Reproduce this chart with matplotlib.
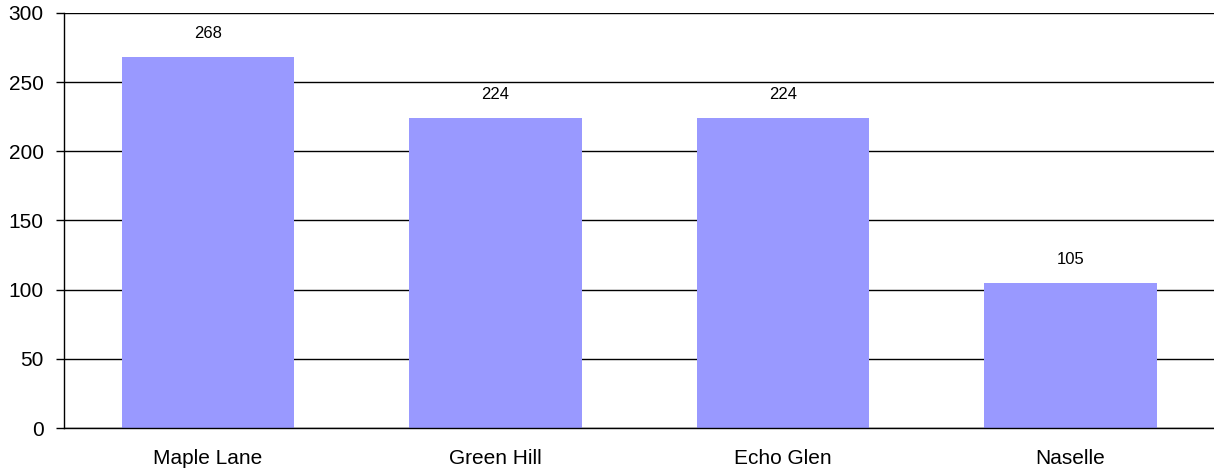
import numpy as np
import matplotlib
matplotlib.use("Agg")
import matplotlib.pyplot as plt

plt.rcParams["font.family"] = ["Liberation Sans", "DejaVu Sans"]

sites = ["Maple Lane", "Green Hill", "Echo Glen", "Naselle"]
counts = [268, 224, 224, 105]
y_ticks = [0, 50, 100, 150, 200, 250, 300]

BAR = "#9999ff"

fig = plt.figure(figsize=(12.14, 4.73), dpi=100)
ax = fig.add_axes([64 / 1214, 45 / 473, 1 - 64 / 1214, 415 / 473])

x = np.arange(len(sites))
bars = ax.bar(x, counts, width=0.6, color=BAR, zorder=2)

# count above each bar
for b, v in zip(bars, counts):
    ax.annotate(str(v), (b.get_x() + b.get_width() / 2, v),
                xytext=(0, 16), textcoords="offset pixels",
                ha="center", va="bottom", fontsize=12)

ax.set_xlim(-0.5, len(sites) - 0.5)
ax.set_ylim(0, 300)
ax.set_yticks(y_ticks)
ax.set_xticks(x)
ax.set_xticklabels(sites)
ax.tick_params(axis="y", length=6, width=1, labelsize=15, pad=8.5)
ax.tick_params(axis="x", length=0, labelsize=15, pad=15)
ax.yaxis.grid(True, color="black", linewidth=1, zorder=1)
ax.set_axisbelow(True)
for side in ("top", "right"):
    ax.spines[side].set_visible(False)
ax.spines["left"].set_linewidth(1)
ax.spines["bottom"].set_linewidth(1)

fig.savefig("out.png", dpi=100)
